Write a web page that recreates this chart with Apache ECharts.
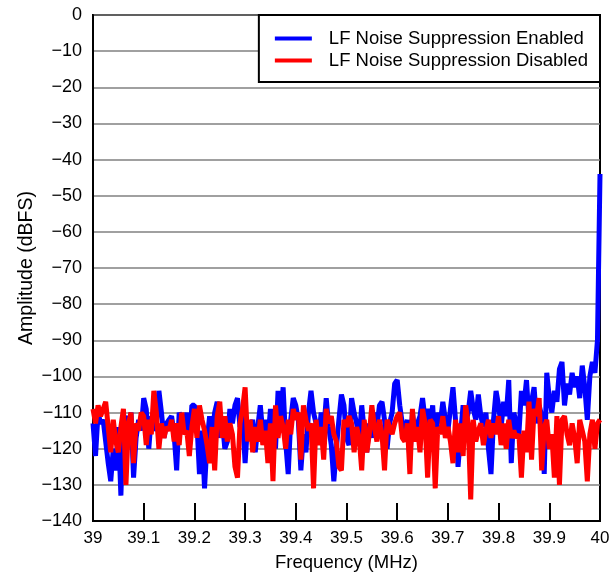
<!DOCTYPE html>
<html>
<head>
<meta charset="utf-8">
<script src="https://cdn.jsdelivr.net/npm/echarts@6/dist/echarts.min.js"></script>
<style>
html,body{margin:0;padding:0;background:#fff;}
#chart{width:611px;height:573px;}
</style>
</head>
<body>
<div id="chart"></div>
<script>
// Frequency grid (MHz): start and step of the sampled spectrum
var freqStart = 39.0;
var freqStep = 0.005;

// Amplitude (dBFS), LF Noise Suppression Enabled
var enabled = [
-113,-122,-110,-113,-112,-118,-124,-129,-120,-126,
-114,-133,-112,-111,-115,-110,-128,-117,-112,-115,
-106,-109,-120,-111,-115,-113,-104,-110,-117,-113,
-112,-111,-116,-126,-110,-112,-115,-110,-120,-108,
-108,-113,-127,-115,-131,-118,-111,-116,-110,-107,
-117,-112,-120,-118,-109,-113,-108,-106,-114,-111,
-124,-113,-116,-112,-121,-114,-108,-116,-112,-118,
-109,-115,-120,-104,-113,-103,-118,-127,-112,-106,
-108,-112,-126,-116,-121,-110,-104,-110,-113,-118,
-110,-115,-106,-114,-119,-129,-120,-112,-105,-108,
-117,-119,-106,-110,-113,-118,-108,-115,-121,-113,
-117,-110,-114,-108,-107,-112,-120,-113,-110,-102,
-101,-108,-113,-115,-112,-123,-110,-116,-113,-111,
-106,-112,-109,-114,-108,-121,-110,-113,-107,-112,
-115,-109,-103,-112,-125,-116,-108,-113,-110,-104,
-109,-112,-105,-111,-114,-110,-120,-127,-112,-104,
-108,-114,-107,-111,-101,-124,-110,-113,-116,-104,
-108,-101,-112,-107,-103,-113,-108,-111,-127,-99,
-106,-110,-104,-107,-98,-96,-108,-102,-105,-99,
-103,-100,-106,-97,-103,-112,-100,-96,-99,-90,
-44
];

// Amplitude (dBFS), LF Noise Suppression Disabled
var disabled = [
-109,-113,-108,-111,-109,-107,-114,-121,-112,-118,
-121,-114,-109,-130,-113,-110,-124,-113,-115,-110,
-111,-119,-112,-116,-104,-110,-120,-113,-117,-114,
-115,-112,-118,-113,-119,-110,-116,-115,-122,-114,
-109,-117,-108,-112,-115,-119,-124,-114,-126,-111,
-107,-117,-111,-118,-113,-116,-125,-128,-113,-109,
-103,-118,-112,-121,-114,-118,-112,-119,-115,-124,
-113,-129,-108,-117,-111,-114,-120,-112,-116,-109,
-112,-110,-123,-108,-112,-115,-113,-131,-112,-119,
-114,-123,-109,-113,-111,-116,-118,-125,-126,-112,
-114,-111,-113,-121,-114,-117,-126,-112,-121,-116,
-108,-114,-118,-112,-116,-126,-112,-114,-116,-113,
-111,-110,-117,-118,-113,-127,-109,-118,-114,-121,
-109,-113,-128,-112,-113,-131,-114,-116,-111,-117,
-114,-118,-124,-112,-121,-113,-122,-108,-113,-134,
-112,-118,-115,-113,-119,-115,-112,-117,-113,-116,
-111,-119,-113,-120,-112,-117,-115,-117,-116,-128,
-115,-121,-107,-123,-109,-111,-106,-126,-114,-112,
-120,-116,-128,-111,-130,-112,-111,-116,-119,-113,
-117,-124,-112,-115,-118,-129,-116,-112,-120,-113,
-112
];

var seriesNames = ['LF Noise Suppression Enabled', 'LF Noise Suppression Disabled'];
var seriesColors = ['#0000ff', '#ff0000'];

function pairs(vals) {
  return vals.map(function (v, i) { return [+(freqStart + i * freqStep).toFixed(4), v]; });
}

var FONT = 'Liberation Sans, Arial, sans-serif';
var chart = echarts.init(document.getElementById('chart'), null, {renderer: 'canvas'});
chart.setOption({
  animation: false,
  backgroundColor: '#fff',
  grid: {left: 93, right: 11, top: 15, bottom: 52, show: true, borderColor: '#000', borderWidth: 2,
         backgroundColor: 'transparent', containLabel: false, outerBoundsMode: 'none'},
  legend: {
    data: seriesNames,
    orient: 'vertical',
    right: 11, top: 15,
    backgroundColor: '#fff',
    borderColor: '#000', borderWidth: 2,
    padding: [14, 12, 12, 16],
    itemGap: 3,
    itemWidth: 37, itemHeight: 4,
    icon: 'rect',
    textStyle: {fontFamily: FONT, fontSize: 18.5, color: '#000', padding: [0, 0, 0, 12]}
  },
  xAxis: {
    type: 'value', min: 39, max: 40, interval: 0.1,
    name: 'Frequency (MHz)', nameLocation: 'middle', nameGap: 32,
    nameTextStyle: {fontFamily: FONT, fontSize: 18.5, color: '#000'},
    axisLine: {show: true, onZero: false, lineStyle: {color: '#000', width: 2}},
    axisTick: {show: true, inside: true, length: 18, lineStyle: {color: '#000', width: 2}},
    axisLabel: {fontFamily: FONT, fontSize: 17, color: '#000', margin: 9,
      formatter: function (v) { return (Math.round(v * 10) / 10).toString(); }},
    splitLine: {show: false}
  },
  yAxis: {
    type: 'value', min: -140, max: 0, interval: 10,
    name: 'Amplitude (dBFS)', nameLocation: 'middle', nameGap: 56, nameRotate: 90,
    nameMoveOverlap: false,
    nameTextStyle: {fontFamily: FONT, fontSize: 19.5, color: '#000'},
    axisLine: {show: true, onZero: false, lineStyle: {color: '#000', width: 2}},
    axisTick: {show: false},
    axisLabel: {fontFamily: FONT, fontSize: 18, color: '#000', margin: 11,
      formatter: function (v) { return v < 0 ? '\u2212' + Math.abs(v) : String(v); }},
    splitLine: {show: true, lineStyle: {color: '#808080', width: 1.5}}
  },
  series: [
    {name: seriesNames[0], type: 'line', data: pairs(enabled), showSymbol: false, symbol: 'none',
     lineStyle: {color: seriesColors[0], width: 5}, itemStyle: {color: seriesColors[0]}},
    {name: seriesNames[1], type: 'line', data: pairs(disabled), showSymbol: false, symbol: 'none',
     lineStyle: {color: seriesColors[1], width: 5}, itemStyle: {color: seriesColors[1]}}
  ]
});
</script>
</body>
</html>
